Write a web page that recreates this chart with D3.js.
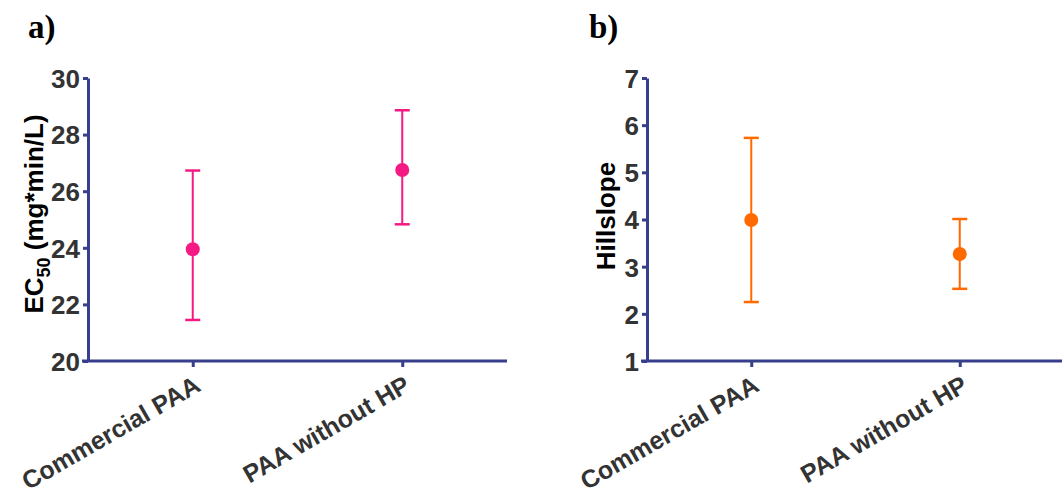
<!DOCTYPE html>
<html>
<head>
<meta charset="utf-8">
<script src="https://cdn.jsdelivr.net/npm/d3@7"></script>
<style>
  html, body { margin: 0; padding: 0; background: #fff; }
  svg { display: block; }
</style>
</head>
<body>
<svg id="chart" width="1062" height="500"></svg>
<script>
// Groups shown on both panels
const categories = ["Commercial PAA", "PAA without HP"];

// Panel a: EC50 estimates with lower / upper interval bounds
const ec50Mean  = [23.95, 26.75];
const ec50Lower = [21.45, 24.83];
const ec50Upper = [26.73, 28.86];
const ec50Ticks = [20, 22, 24, 26, 28, 30];

// Panel b: Hill slope estimates with lower / upper interval bounds
const hillMean  = [3.99, 3.27];
const hillLower = [2.25, 2.53];
const hillUpper = [5.73, 4.01];
const hillTicks = [1, 2, 3, 4, 5, 6, 7];

const AXIS = "#373f8c";
const TEXT = "#333333";
const FONT = "'Liberation Sans', Arial, sans-serif";
const FS = 26;

const svg = d3.select("#chart");

function panel(opts) {
  const g = svg.append("g");
  const x = d3.scalePoint().domain(categories).range([opts.left, opts.left + opts.width]).padding(0.5);
  const y = d3.scaleLinear().domain(opts.domain).range([opts.bottom, opts.top]);

  // y axis
  const yAxis = d3.axisLeft(y).tickValues(opts.ticks).tickFormat(d3.format("d"))
    .tickSize(5).tickPadding(3).tickSizeOuter(0);
  const ya = g.append("g").attr("transform", `translate(${opts.left},0)`).call(yAxis);
  ya.select(".domain").attr("stroke", AXIS).attr("stroke-width", 3);
  ya.selectAll(".tick line").attr("stroke", AXIS).attr("stroke-width", 3);
  ya.selectAll(".tick text")
    .attr("fill", TEXT).attr("font-family", FONT).attr("font-weight", "bold").attr("font-size", FS)
    .attr("dy", "0.36em");

  // x axis
  const xAxis = d3.axisBottom(x).tickSize(6).tickSizeOuter(0).tickFormat(d => d);
  const xa = g.append("g").attr("transform", `translate(0,${opts.bottom})`).call(xAxis);
  xa.select(".domain").attr("stroke", AXIS).attr("stroke-width", 3)
    .attr("d", `M${opts.left - 6},0H${opts.left + opts.width}`);
  xa.selectAll(".tick line").attr("stroke", AXIS).attr("stroke-width", 3);
  xa.selectAll(".tick text")
    .attr("fill", TEXT).attr("font-family", FONT).attr("font-weight", "bold").attr("font-size", 25)
    .attr("text-anchor", "end")
    .attr("x", 0).attr("y", 0).attr("dy", 0)
    .attr("transform", "translate(9,29) rotate(-30)");

  // error bars
  const eb = g.append("g");
  categories.forEach((c, i) => {
    const cx = x(c);
    eb.append("line").attr("x1", cx).attr("x2", cx)
      .attr("y1", y(opts.lower[i])).attr("y2", y(opts.upper[i]))
      .attr("stroke", opts.color).attr("stroke-width", 2);
    [opts.lower[i], opts.upper[i]].forEach(v => {
      eb.append("line").attr("x1", cx - 7.5).attr("x2", cx + 7.5)
        .attr("y1", y(v)).attr("y2", y(v))
        .attr("stroke", opts.color).attr("stroke-width", 2.5);
    });
    eb.append("circle").attr("cx", cx).attr("cy", y(opts.mean[i])).attr("r", 7)
      .attr("fill", opts.color);
  });

  // y title
  const t = g.append("text")
    .attr("transform", `translate(${opts.titleX},${opts.titleY}) rotate(-90)`)
    .attr("text-anchor", "middle")
    .attr("font-family", FONT).attr("font-weight", "bold").attr("font-size", FS).attr("fill", "#000");
  opts.title(t);

  // panel letter
  g.append("text").attr("x", opts.letterX).attr("y", 38)
    .attr("font-family", "'Liberation Serif', 'Times New Roman', serif")
    .attr("font-weight", "bold").attr("font-size", 33).attr("fill", "#000")
    .text(opts.letter);
}

panel({
  left: 88, width: 419, top: 78, bottom: 361,
  domain: [20, 30], ticks: ec50Ticks,
  mean: ec50Mean, lower: ec50Lower, upper: ec50Upper,
  color: "#f51983",
  titleX: 43, titleY: 214,
  title: t => {
    t.append("tspan").text("EC");
    t.append("tspan").attr("font-size", 18).attr("dy", 7).text("50");
    t.append("tspan").attr("dy", -7).text(" (mg*min/L)");
  },
  letter: "a)", letterX: 28
});

panel({
  left: 647, width: 417, top: 78, bottom: 361,
  domain: [1, 7], ticks: hillTicks,
  mean: hillMean, lower: hillLower, upper: hillUpper,
  color: "#ff6a00",
  titleX: 615, titleY: 216,
  title: t => t.text("Hillslope"),
  letter: "b)", letterX: 589
});
</script>
</body>
</html>
